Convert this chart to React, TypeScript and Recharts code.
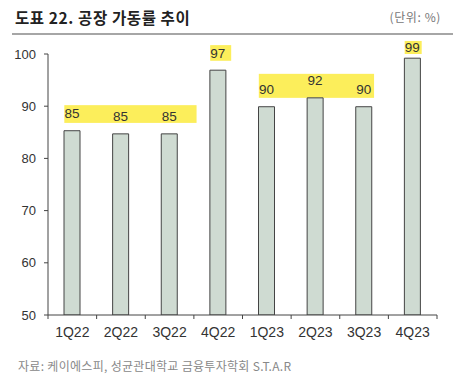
import React from 'react';
import { BarChart, Bar, XAxis, YAxis, ReferenceArea, LabelList } from 'recharts';

const quarters = ['1Q22', '2Q22', '3Q22', '4Q22', '1Q23', '2Q23', '3Q23', '4Q23'];
const utilization = [85.3, 84.7, 84.7, 96.9, 89.9, 91.6, 89.9, 99.2];
const yTicks = [50, 60, 70, 80, 90, 100];

// yellow highlight boxes behind the value labels
const highlightFrom = ['1Q22', '4Q22', '1Q23', '4Q23'];
const highlightTo = ['3Q22', '4Q22', '3Q23', '4Q23'];
const highlightLow = [86.8, 98.7, 91.6, 100.0];
const highlightHigh = [90.2, 101.7, 96.2, 102.5];

const data = quarters.map((q, i) => ({ quarter: q, value: utilization[i] }));

const W = 473;
const H = 377;
const MARGIN = { top: 54, right: 36, bottom: 32, left: 8 };
const Y_WIDTH = 40;
const BAND = (W - MARGIN.left - MARGIN.right - Y_WIDTH) / quarters.length;
const BOX_PAD = [27, 13, 10, 9];

const NUM_FONT = '"Liberation Sans", Arial, "Noto Sans CJK KR", sans-serif';
const KR_FONT = '"Noto Sans CJK KR", "Liberation Sans", sans-serif';

const QuarterTick = (props: any) => {
  const { x, y, payload, index } = props;
  const half = BAND / 2;
  return (
    <g>
      <line x1={x - half} x2={x - half} y1={y} y2={y + 4} stroke="#444" />
      {index === quarters.length - 1 && (
        <line x1={x + half} x2={x + half} y1={y} y2={y + 4} stroke="#444" />
      )}
      <text
        x={x}
        y={y + 17}
        textAnchor="middle"
        dominantBaseline="central"
        fontSize={14}
        fontFamily={NUM_FONT}
        fill="#333"
      >
        {payload.value}
      </text>
    </g>
  );
};

// labels sit 17px above the bar, but never closer than 6.5px to the plot top
const ValueLabel = (p: any) => (
  <text
    x={p.x + p.width / 2}
    y={Math.max(p.y - 17, MARGIN.top - 6.5)}
    textAnchor="middle"
    dominantBaseline="central"
    fontSize={13.5}
    fontFamily={NUM_FONT}
    fill="#333"
  >
    {Math.round(p.value)}
  </text>
);

export default function App() {
  return (
    <div
      style={{
        position: 'absolute',
        left: 0,
        top: 0,
        width: W,
        height: H,
        background: '#fff',
        overflow: 'hidden',
      }}
    >
      <div
        style={{
          position: 'absolute',
          left: 15,
          top: 6,
          fontFamily: KR_FONT,
          fontWeight: 700,
          fontSize: 15.5,
          letterSpacing: 0.6,
          lineHeight: '22px',
          color: '#222',
        }}
      >
        도표 22. 공장 가동률 추이
      </div>
      <div
        style={{
          position: 'absolute',
          right: 32,
          top: 8,
          fontFamily: KR_FONT,
          fontSize: 12,
          letterSpacing: 0.6,
          lineHeight: '18px',
          color: '#777',
        }}
      >
        (단위: %)
      </div>
      <div
        style={{
          position: 'absolute',
          left: 12,
          top: 33,
          width: 441,
          height: 2,
          background: '#a6a6a6',
        }}
      />
      <div style={{ position: 'absolute', left: 0, top: 0 }}>
        <BarChart width={W} height={H} data={data} margin={MARGIN}>
          {highlightFrom.map((from, i) => (
            <ReferenceArea
              key={from}
              x1={from}
              x2={highlightTo[i]}
              y1={highlightLow[i]}
              y2={highlightHigh[i]}
              ifOverflow="visible"
              shape={(p: any) => (
                <rect
                  x={p.x + BAND / 2 - 8}
                  y={p.y}
                  width={p.width - BAND + 8 + BOX_PAD[i]}
                  height={p.height}
                  fill="#fcee5b"
                />
              )}
            />
          ))}
          <XAxis
            dataKey="quarter"
            height={30}
            tickLine={false}
            tickSize={0}
            tickMargin={0}
            axisLine={{ stroke: '#444' }}
            tick={<QuarterTick />}
            interval={0}
          />
          <YAxis
            domain={[50, 100]}
            ticks={yTicks}
            width={Y_WIDTH}
            tickSize={4}
            tickMargin={8}
            axisLine={{ stroke: '#444' }}
            tickLine={{ stroke: '#444' }}
            tick={{ fontSize: 13, fill: '#333', fontFamily: NUM_FONT }}
            allowDataOverflow
          />
          <Bar
            dataKey="value"
            barSize={16}
            fill="#cfdbd2"
            stroke="#444"
            strokeWidth={1}
            isAnimationActive={false}
          >
            <LabelList dataKey="value" content={<ValueLabel />} />
          </Bar>
        </BarChart>
      </div>
      <div
        style={{
          position: 'absolute',
          left: 18,
          top: 357,
          fontFamily: KR_FONT,
          fontSize: 12,
          lineHeight: '18px',
          color: '#888',
          letterSpacing: 0.3,
        }}
      >
        자료: 케이에스피, 성균관대학교 금융투자학회 S.T.A.R
      </div>
    </div>
  );
}
